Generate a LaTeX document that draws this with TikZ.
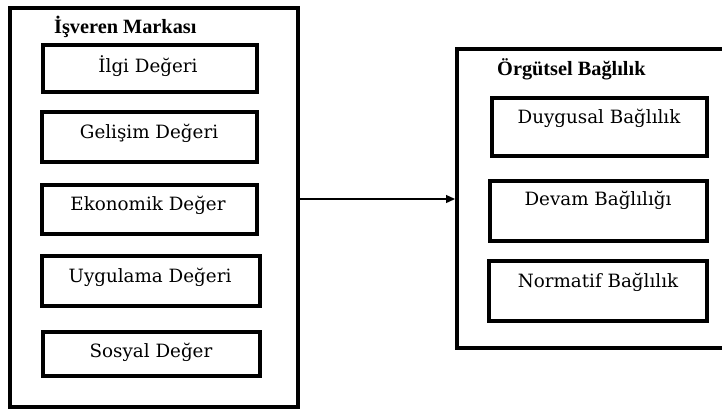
\documentclass[tikz,border=0pt]{standalone}
\usepackage{fontspec}
\setmainfont{DejaVu Serif}
\newfontfamily\titlefont{Liberation Serif}
\usetikzlibrary{arrows.meta}
\tikzset{
  outerbox/.style={draw=black, line width=3.5pt},
  innerbox/.style={draw=black, line width=3.5pt, inner sep=0pt},
  itemtext/.style={font=\fontsize{18.3}{22}\selectfont, inner sep=0pt, anchor=base},
  titletext/.style={font=\titlefont\bfseries\fontsize{20.3}{24}\selectfont, inner sep=0pt, anchor=base west},
  conn/.style={line width=1.3pt, -{Triangle[length=9pt,width=8pt]}}
}
\begin{document}
\begin{tikzpicture}[x=1pt,y=-1pt]
\useasboundingbox (0,0) rectangle (722,410);
\clip (0,0) rectangle (722,410);
% left outer
\node[outerbox, minimum width=288pt, minimum height=399pt, inner sep=0pt, anchor=north west] (L) at (8,6) {};
\node[titletext] (Lt) at (54,33) {İşveren Markası};
% left inner boxes
\draw[innerbox] (43,45) rectangle (257,92);
\node[inner sep=0pt, minimum width=214pt, minimum height=47pt] (b1) at (150,68.5) {};
\node[inner sep=0pt, minimum width=215pt, minimum height=50pt] (b2) at (149.5,137) {};
\draw[innerbox] (42,112) rectangle (257,162);
\node[inner sep=0pt, minimum width=215pt, minimum height=49pt] (b3) at (149.5,209.5) {};
\draw[innerbox] (42,185) rectangle (257,234);
\node[inner sep=0pt, minimum width=218pt, minimum height=50pt] (b4) at (151,281) {};
\draw[innerbox] (42,256) rectangle (260,306);
\node[inner sep=0pt, minimum width=217pt, minimum height=44pt] (b5) at (151.5,354) {};
\draw[innerbox] (43,332) rectangle (260,376);
\node[itemtext] (t1) at (148,72) {İlgi Değeri};
\node[itemtext] (t2) at (149,138) {Gelişim Değeri};
\node[itemtext] (t3) at (148,210) {Ekonomik Değer};
\node[itemtext] (t4) at (150,282) {Uygulama Değeri};
\node[itemtext] (t5) at (151,357) {Sosyal Değer};
% right outer
\node[outerbox, minimum width=300pt, minimum height=299pt, inner sep=0pt, anchor=north west] (R) at (455,47) {};
\node[titletext] (Rt) at (497,75) {Örgütsel Bağlılık};
\draw[innerbox] (492,98) rectangle (707,156);
\node[inner sep=0pt, minimum width=215pt, minimum height=58pt] (c1) at (599.5,127) {};
\draw[innerbox] (490,181) rectangle (707,241);
\node[inner sep=0pt, minimum width=217pt, minimum height=60pt] (c2) at (598.5,211) {};
\draw[innerbox] (489,261) rectangle (707,321);
\node[inner sep=0pt, minimum width=218pt, minimum height=60pt] (c3) at (598,291) {};
\node[itemtext] (u1) at (599,123) {Duygusal Bağlılık};
\node[itemtext] (u2) at (598,205) {Devam Bağlılığı};
\node[itemtext] (u3) at (598,287) {Normatif Bağlılık};
% connector
\draw[conn] (L.east |- 0,199) -- (R.west |- 0,199);
\end{tikzpicture}
\end{document}
